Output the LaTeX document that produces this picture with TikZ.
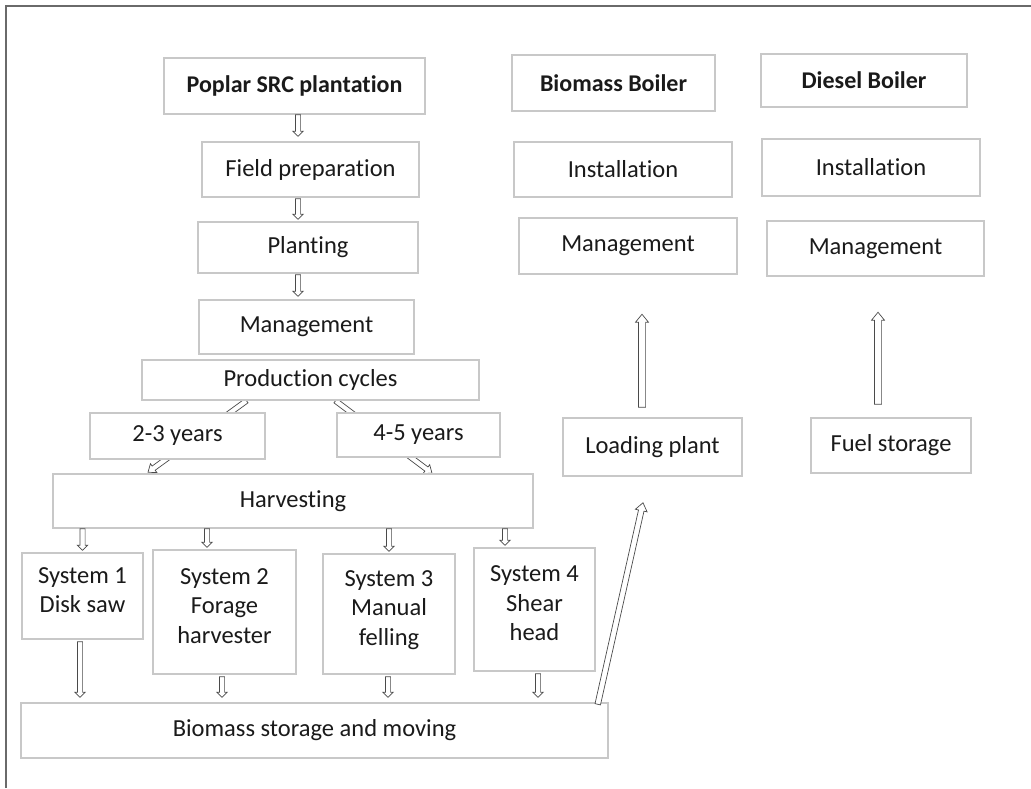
\documentclass[tikz,border=0pt]{standalone}
\usepackage{fontspec}
\setmainfont{Carlito}[Ligatures=NoCommon]
\usetikzlibrary{calc}
\pgfdeclarelayer{bg}
\pgfsetlayers{bg,main}

\definecolor{boxcol}{HTML}{C8C8C8}
\definecolor{txtcol}{HTML}{1A1A1A}
\definecolor{arrowcol}{HTML}{4A4A4A}
\definecolor{framecol}{HTML}{6A6A6A}

\tikzset{
  arrow shaft/.store in=\arrShaft,
  arrow head/.store in=\arrHead,
  arrow len/.store in=\arrLen,
  gap start/.store in=\gapStart,
  gap end/.store in=\gapEnd,
  arrow shaft=2.6pt, arrow head=5.2pt, arrow len=5pt,
  gap start=0pt, gap end=0pt,
  % outlined block arrow drawn as a closed polygon between two points
  hollow/.style={draw=arrowcol, line width=0.7pt, fill=white, line join=miter,
    to path={
      ($(\tikztostart)!\gapStart!(\tikztotarget)$) coordinate (ha)
      ($(\tikztotarget)!\gapEnd!(\tikztostart)$) coordinate (hb)
      ($(hb)!\arrLen!(ha)$) coordinate (hc)
      ($(ha)!\arrShaft!90:(hb)$)
      -- ($(hc)!\arrShaft!-90:(ha)$)
      -- ($(hc)!\arrHead!-90:(ha)$)
      -- (hb)
      -- ($(hc)!\arrHead!90:(ha)$)
      -- ($(hc)!\arrShaft!90:(ha)$)
      -- ($(ha)!\arrShaft!-90:(hb)$)
      -- cycle}},
  box/.style={draw=boxcol, line width=1.5pt, fill=white, inner sep=0pt,
    text=txtcol, align=center, font=\fontsize{24.5}{29.5}\selectfont},
  titlebox/.style={box, font=\fontsize{24}{29}\selectfont\bfseries},
  sysbox/.style={box, text depth=12pt},
}

\begin{document}
\begin{tikzpicture}[x=1pt, y=-1pt]
\useasboundingbox (0,0) rectangle (1031,788);

% frame
\draw[framecol, line width=1.3pt] (6,788) -- (6,6) -- (1031,6);

% plantation chain
\node[titlebox, minimum width=261pt, minimum height=56pt] (pop) at (294.5,86) {Poplar SRC plantation};
\node[box, minimum width=217pt, minimum height=55pt] (field) at (310.5,169.5) {Field preparation};
\node[box, minimum width=220pt, minimum height=51pt] (plant) at (308,247.5) {Planting};
\node[box, minimum width=215pt, minimum height=54pt] (mgmt) at (306.5,327) {Management};
\node[box, minimum width=337pt, minimum height=40pt] (prod) at (310.5,380) {Production cycles};
\node[box, minimum width=175pt, minimum height=46pt] (y23) at (177.5,436) {2-3 years};
\node[box, minimum width=163pt, minimum height=44pt] (y45) at (418.5,435) {4-5 years};
\node[box, minimum width=480pt, minimum height=54pt] (harv) at (293,501) {Harvesting};

% harvesting systems
\node[sysbox, minimum width=121pt, minimum height=86pt] (s1) at (82.5,596) {System 1\\Disk saw};
\node[sysbox, minimum width=143pt, minimum height=124pt] (s2) at (224.5,612) {System 2\\Forage\\harvester};
\node[sysbox, minimum width=132pt, minimum height=120pt] (s3) at (389,614) {System 3\\Manual\\felling};
\node[sysbox, minimum width=121pt, minimum height=123pt] (s4) at (534.5,609.5) {System 4\\Shear\\head};
\node[box, minimum width=587pt, minimum height=55pt] (store) at (314.5,730.5) {Biomass storage and moving};

% boilers
\node[titlebox, minimum width=203pt, minimum height=56pt] (bb) at (613.5,83) {Biomass Boiler};
\node[titlebox, minimum width=206pt, minimum height=53pt] (db) at (864,80.5) {Diesel Boiler};
\node[box, minimum width=218pt, minimum height=55pt] (ib) at (623,169.5) {Installation};
\node[box, minimum width=218pt, minimum height=57pt] (id) at (871,167.5) {Installation};
\node[box, minimum width=218pt, minimum height=56pt] (mb) at (628,246) {Management};
\node[box, minimum width=217pt, minimum height=55pt] (md) at (875.5,248.5) {Management};
\node[box, minimum width=179pt, minimum height=58pt] (load) at (652.5,447) {Loading plant};
\node[box, minimum width=160pt, minimum height=55pt] (fuel) at (891,445.5) {Fuel storage};

% short vertical arrows of the plantation chain
\path[hollow, gap end=5pt] ($(pop.south)+(3.5,0)$) to ($(field.north)+(-12.5,0)$);
\path[hollow, gap start=1pt, gap end=2pt] ($(field.south)+(-12.5,0)$) to ($(plant.north)+(-10,0)$);
\path[hollow, gap start=1pt, gap end=3pt] ($(plant.south)+(-10,0)$) to ($(mgmt.north)+(-8.5,0)$);

% production cycles split, passing behind the year boxes
\begin{pgfonlayer}{bg}
\path[hollow, arrow shaft=2.6pt, arrow head=5.5pt, arrow len=7pt]
  ($(prod.south)+(-64,0)$) to ($(harv.north)+(-145,-1)$);
\path[hollow, arrow shaft=2.6pt, arrow head=5.5pt, arrow len=7pt]
  ($(prod.south)+(25,0)$) to ($(harv.north)+(139,0)$);
\end{pgfonlayer}

% harvesting to the systems
\path[hollow, gap end=2pt] (harv.south -| s1.north) to (s1.north);
\path[hollow, gap end=2pt] ($(harv.south)+(-86,0)$) to ($(s2.north)+(-17.5,0)$);
\path[hollow, gap end=2pt] (harv.south -| s3.north) to (s3.north);
\path[hollow, gap end=2pt] ($(harv.south)+(212,0)$) to ($(s4.north)+(-29.5,0)$);

% systems to storage
\path[hollow, gap start=2pt, gap end=5pt] ($(s1.south)+(-2.5,0)$) to ($(store.north -| s1.south)+(-2.5,0)$);
\path[hollow, gap start=2pt, gap end=5pt] ($(s2.south)+(-2.5,0)$) to ($(store.north -| s2.south)+(-2.5,0)$);
\path[hollow, gap start=2pt, gap end=5pt] ($(s3.south)+(-1,0)$) to ($(store.north -| s3.south)+(-1,0)$);
\path[hollow, gap start=2pt, gap end=5pt] ($(s4.south)+(3.5,0)$) to ($(store.north -| s4.south)+(3.5,0)$);

% storage up to the loading plant
\path[hollow, arrow shaft=2.8pt, arrow head=6pt, arrow len=8pt]
  ($(store.north east)+(-11,2)$) to ($(load.south)+(-9.5,26)$);

% supply arrows towards the boilers
\path[hollow, arrow shaft=3.6pt, arrow head=6.5pt, arrow len=8pt]
  ($(load.north)+(-10.5,-10)$) to ($(load.north)+(-10.5,-103)$);
\path[hollow, arrow shaft=3.6pt, arrow head=6.5pt, arrow len=8pt]
  ($(fuel.north)+(-13,-13)$) to ($(fuel.north)+(-13,-105)$);
\end{tikzpicture}
\end{document}
